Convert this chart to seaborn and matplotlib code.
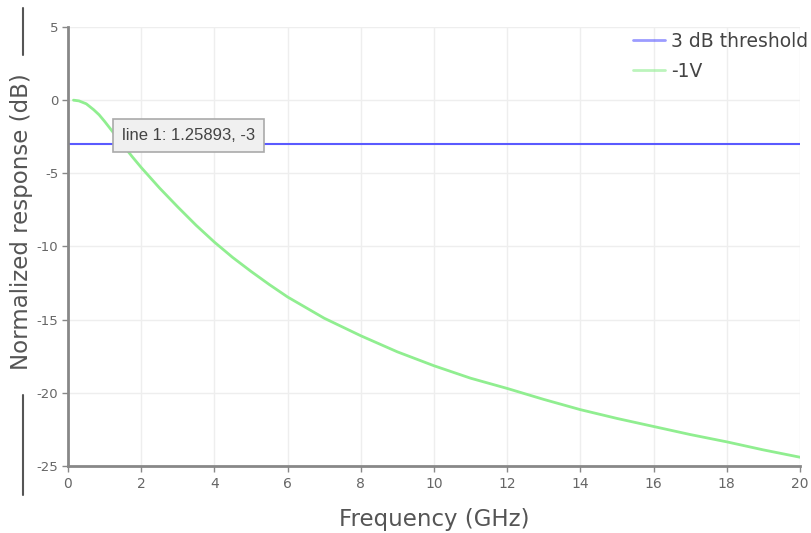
import matplotlib
matplotlib.use("Agg")
import matplotlib.pyplot as plt
import seaborn as sns
import pandas as pd
from matplotlib.lines import Line2D

# Data
freq_ghz = [0.15, 0.3, 0.5, 0.7, 0.85, 1.0, 1.25, 1.5, 1.75, 2.0, 2.5, 3.0, 3.5, 4.0,
            4.5, 5.0, 5.5, 6.0, 7.0, 8.0, 9.0, 10.0, 11.0, 12.0, 13.0, 14.0, 15.0,
            16.0, 17.0, 18.0, 19.0, 20.0]
resp_db = [0.0, -0.05, -0.25, -0.65, -1.0, -1.45, -2.25, -3.05, -3.85, -4.6, -6.0,
           -7.3, -8.55, -9.7, -10.75, -11.7, -12.6, -13.45, -14.9, -16.1, -17.2,
           -18.15, -19.0, -19.7, -20.45, -21.15, -21.75, -22.3, -22.85, -23.35,
           -23.9, -24.4]
thresh_x = [0, 20]
thresh_y = [-3, -3]
xticks = [0, 2, 4, 6, 8, 10, 12, 14, 16, 18, 20]
yticks = [5, 0, -5, -10, -15, -20, -25]
tooltip_text = "line 1: 1.25893, -3"

sns.set_theme(style="white")
plt.rcParams['font.family'] = ['DejaVu Sans']

fig = plt.figure(figsize=(8.11, 5.33), dpi=100)
ax = fig.add_axes([68/811, 67/533, 732/811, 439/533])

df_curve = pd.DataFrame({"x": freq_ghz, "y": resp_db})
df_thr = pd.DataFrame({"x": thresh_x, "y": thresh_y})

sns.lineplot(data=df_thr, x="x", y="y", ax=ax, color="#5a5aff", linewidth=1.5,
             label="3 dB threshold")
sns.lineplot(data=df_curve, x="x", y="y", ax=ax, color="#90ee90", linewidth=2,
             label="-1V")

ax.set_xlim(0, 20)
ax.set_ylim(-25, 5)
ax.set_xticks(xticks)
ax.set_yticks(yticks)
ax.set_xticklabels([str(t) for t in xticks], color="#666666", fontsize=10)
ax.set_yticklabels([str(t) for t in yticks], color="#666666", fontsize=9.5)
ax.grid(True, color="#eeeeee", linewidth=1)
for s in ["top", "right"]:
    ax.spines[s].set_visible(False)
for s in ["left", "bottom"]:
    ax.spines[s].set_color("#888888")
    ax.spines[s].set_linewidth(2)
ax.tick_params(axis="both", direction="out", length=4, width=1, color="#888888",
               bottom=True, left=True, pad=4)
ax.tick_params(axis="y", pad=3)

ax.set_xlabel("Frequency (GHz)", fontsize=16.5, color="#555555", labelpad=12)
ax.set_ylabel("Normalized response (dB)", fontsize=16.5, color="#555555")
ax.yaxis.set_label_coords((33 - 68) / 732, (466 - 222) / 439)

leg = ax.legend(loc="upper right", bbox_to_anchor=(1.034, 1.028), frameon=False,
                fontsize=13.5, handlelength=1.7, handletextpad=0.3, labelspacing=0.6)
for t in leg.get_texts():
    t.set_color("#444444")
for h in leg.get_lines():
    h.set_alpha(0.6)
    h.set_linewidth(2)

ax.text(1.475, -2.42, tooltip_text, fontsize=12, color="#444444", va="center", ha="left",
        family=["Liberation Sans", "DejaVu Sans"],
        bbox=dict(boxstyle="square,pad=0.55", facecolor="#f0f0f0", edgecolor="#aaaaaa",
                  linewidth=1.2), zorder=5)

# decorative segments beside the y label
fig.add_artist(Line2D([23/811, 23/811], [1 - 8/533, 1 - 55/533], color="#555555", lw=1.5))
fig.add_artist(Line2D([23/811, 23/811], [1 - 395/533, 1 - 495/533], color="#555555", lw=1.5))

fig.savefig("out.png", dpi=100)
